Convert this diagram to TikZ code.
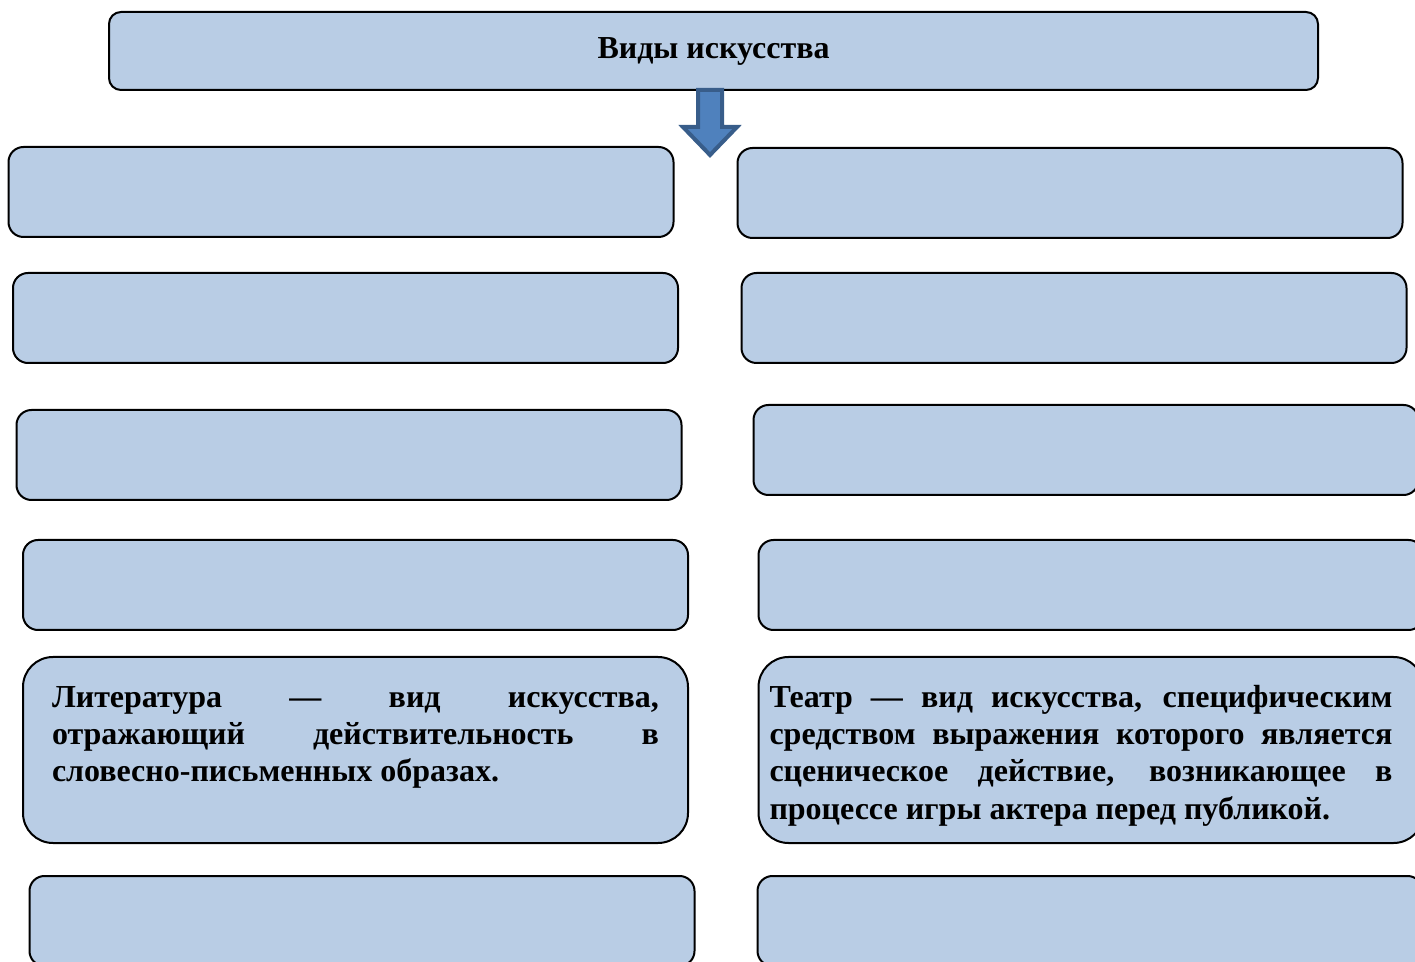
\documentclass[tikz,border=0pt]{standalone}
\usepackage{fontspec}
\setmainfont{Liberation Serif}
\usetikzlibrary{calc}
\definecolor{boxblue}{RGB}{185,205,229}
\definecolor{arrowblue}{RGB}{79,129,189}
\definecolor{arrowedge}{RGB}{56,93,138}
\tolerance=9999
\hyphenpenalty=10000
\exhyphenpenalty=10000

\begin{document}
\begin{tikzpicture}[x=0.5pt,y=-0.5pt]

\tikzstyle{artbox} = [rectangle, draw=black, fill=boxblue, line width=1pt, rounded corners=7.5pt, inner sep=0pt, minimum width=332.5pt, minimum height=45pt]
\tikzstyle{titlebox} = [artbox, rounded corners=6pt, minimum width=604.5pt, minimum height=39pt, font=\fontsize{16pt}{18.5pt}\selectfont\bfseries]
\tikzstyle{textbox} = [artbox, rounded corners=15pt, minimum height=0pt, align=justify, inner ysep=14.5pt, text height=11pt, text depth=53pt, font=\fontsize{16pt}{18.5pt}\selectfont\bfseries]
\tikzstyle{blockarrow} = [fill=arrowblue, draw=arrowedge, line width=2pt, miter limit=4]

\useasboundingbox (0,0) rectangle (1415,962);
\clip (0,0) rectangle (1415,962);

\node[titlebox] (kinds) at (713.5,51) {Виды искусства};

\node[artbox] (lbox1) at (341,192) {};
\node[artbox] (lbox2) at (345.5,318) {};
\node[artbox] (lbox3) at (349,455) {};
\node[artbox] (lbox4) at (355.5,585) {};
\node[textbox, text width=303.5pt, inner xsep=14.5pt] (literature) at (355.5,750)
    {Литература — вид искусства,\linebreak отражающий действительность в\linebreak словесно-письменных образах.\par};
\node[artbox] (lbox6) at (362,921) {};

\node[artbox] (rbox1) at (1070,193) {};
\node[artbox] (rbox2) at (1074,318) {};
\node[artbox] (rbox3) at (1086,450) {};
\node[artbox] (rbox4) at (1091,585) {};
\node[textbox, text width=321.5pt, inner xsep=5.5pt] (theatre) at (1091,750)
    {\rightskip=10pt Театр — вид искусства, специфическим\linebreak средством выражения которого является\linebreak сценическое действие, возникающее в\linebreak процессе игры актера перед публикой.\par};
\node[artbox] (rbox6) at (1090,921) {};

\coordinate (arrowtop) at (710,90);
\draw[blockarrow] (arrowtop) ++(-12,0) -- ++(24,0) -- ++(0,37) -- ++(15,0)
    -- ++(-27,28) -- ++(-27,-28) -- ++(15,0) -- cycle;

\end{tikzpicture}
\end{document}
